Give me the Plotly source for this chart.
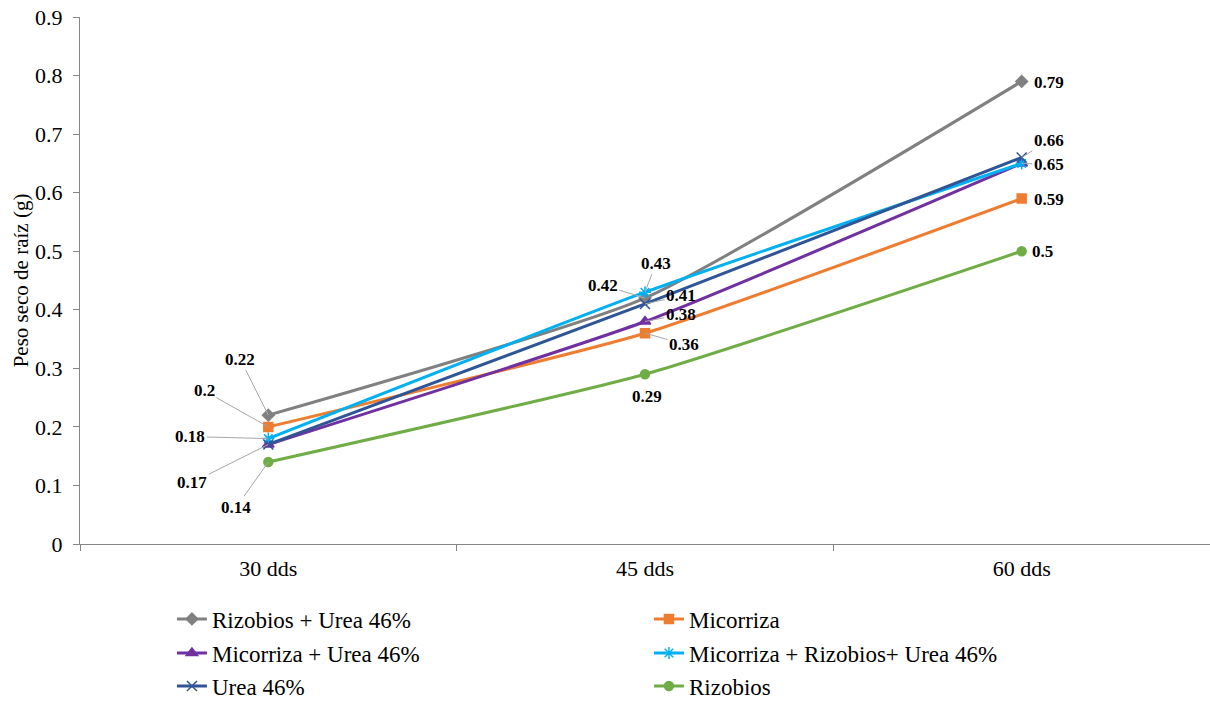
import plotly.graph_objects as go

# Sampling dates and treatments
categories = ["30 dds", "45 dds", "60 dds"]

rizobios_urea = [0.22, 0.42, 0.79]
micorriza = [0.2, 0.36, 0.59]
micorriza_urea = [0.17, 0.38, 0.65]
micorriza_rizobios_urea = [0.18, 0.43, 0.65]
urea = [0.17, 0.41, 0.66]
rizobios = [0.14, 0.29, 0.5]

y_ticks = [0, 0.1, 0.2, 0.3, 0.4, 0.5, 0.6, 0.7, 0.8, 0.9]
y_tick_text = ["0", "0.1", "0.2", "0.3", "0.4", "0.5", "0.6", "0.7", "0.8", "0.9"]

SERIF = "Liberation Serif, Times New Roman, serif"

# name, values, colour, marker, marker size, legend row
series = [
    ("Rizobios + Urea 46%", rizobios_urea, "#808080", "diamond", 9, "legend"),
    ("Micorriza", micorriza, "#ED7D31", "square", 9, "legend"),
    ("Micorriza + Urea 46%", micorriza_urea, "#7030A0", "triangle-up", 10, "legend2"),
    ("Micorriza + Rizobios+ Urea 46%", micorriza_rizobios_urea, "#00B0F0", "asterisk-open", 10, "legend2"),
    ("Urea 46%", urea, "#2F5597", "x-thin-open", 10, "legend3"),
    ("Rizobios", rizobios, "#70AD47", "circle", 9, "legend3"),
]

fig = go.Figure()
for name, vals, color, sym, size, leg in series:
    fig.add_trace(go.Scatter(
        x=categories, y=vals, name=name, mode="lines+markers", legend=leg,
        line=dict(color=color, width=3, shape="spline", smoothing=0.5),
        marker=dict(symbol=sym, size=size, color=color,
                    line=dict(color=color, width=1.5)),
    ))

# Value labels: (series values, point index, label offset x, offset y, leader line shown)
label_specs = [
    (rizobios_urea, 0, -28, -56, True),
    (micorriza, 0, -64, -36, True),
    (micorriza_rizobios_urea, 0, -78, -2, True),
    (urea, 0, -76, 38, True),
    (rizobios, 0, -32, 45, True),
    (rizobios_urea, 1, -42, -13, True),
    (micorriza_rizobios_urea, 1, 11, -29, True),
    (urea, 1, 36, -8, True),
    (micorriza_urea, 1, 36, -7, True),
    (micorriza, 1, 39, 11, True),
    (rizobios, 1, 2, 22, False),
    (rizobios_urea, 2, 27, 1, False),
    (urea, 2, 27, -17, True),
    (micorriza_rizobios_urea, 2, 27, 1, True),
    (micorriza, 2, 27, 1, False),
    (rizobios, 2, 21, 0, False),
]
for vals, i, ax, ay, leader in label_specs:
    fig.add_annotation(
        x=categories[i], y=vals[i], xref="x", yref="y",
        text=f"<b>{vals[i]:g}</b>", showarrow=True,
        ax=ax, ay=ay, arrowhead=0, arrowwidth=1,
        arrowcolor="#A6A6A6" if leader else "rgba(0,0,0,0)",
        font=dict(family=SERIF, size=17, color="black"),
    )

legend_style = dict(
    orientation="h", x=0.1421, xref="container", yref="container",
    xanchor="left", yanchor="middle",
    entrywidth=432, entrywidthmode="pixels", itemwidth=30,
    bgcolor="rgba(0,0,0,0)",
    font=dict(family=SERIF, size=23, color="black"),
)

fig.update_layout(
    width=1210, height=702,
    margin=dict(l=80, r=0, t=17, b=158),
    plot_bgcolor="white", paper_bgcolor="white",
    font=dict(family=SERIF, color="black"),
    showlegend=True,
    legend=dict(legend_style, y=1 - 619 / 702),
    legend2=dict(legend_style, y=1 - 653 / 702),
    legend3=dict(legend_style, y=1 - 686 / 702),
)
fig.update_xaxes(
    type="category", range=[-0.5, 2.5], showgrid=False,
    showline=True, linecolor="#868686", linewidth=1,
    ticks="outside", tickson="boundaries", ticklen=6, tickcolor="#868686",
    ticklabelstandoff=5,
    tickfont=dict(family=SERIF, size=22, color="black"),
)
fig.update_yaxes(
    range=[0, 0.9], tickvals=y_ticks, ticktext=y_tick_text, showgrid=False,
    zeroline=False, showline=True, linecolor="#868686", linewidth=1,
    ticks="outside", ticklen=6, tickcolor="#868686",
    ticklabelstandoff=6,
    tickfont=dict(family=SERIF, size=22, color="black"),
    title=dict(text="Peso seco de raíz (g)", standoff=0,
               font=dict(family=SERIF, size=21, color="black")),
)

fig.write_html("out.html")
